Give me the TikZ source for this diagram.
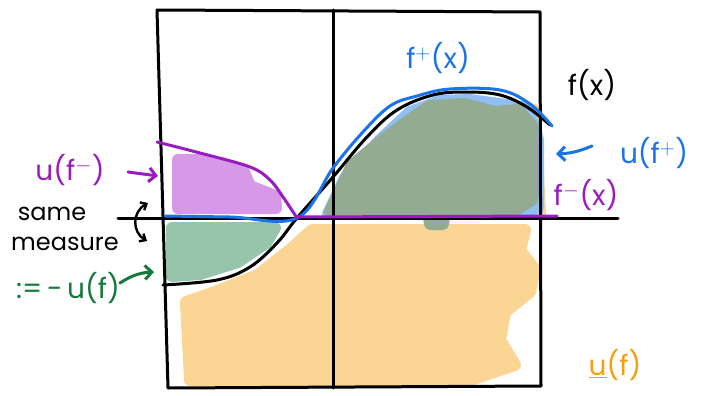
\documentclass[tikz,border=0pt]{standalone}
\usepackage{fontspec}
\setmainfont{Poppins}
\usetikzlibrary{arrows.meta}
\definecolor{cpurple}{HTML}{9A1CC0}
\definecolor{cpurplefill}{HTML}{D898E8}
\definecolor{cblue}{HTML}{1A73E8}
\definecolor{cbluefill}{HTML}{90BFF5}
\definecolor{cgreen}{HTML}{137A3C}
\definecolor{cgreenfill}{HTML}{97C5AB}
\definecolor{corange}{HTML}{F5A00A}
\definecolor{corangefill}{HTML}{FBD594}
\definecolor{csage}{HTML}{93AA93}
\tikzset{
  ink/.style={line width=3pt, line cap=round, line join=round},
  blob/.style={line width=12pt, line join=round, line cap=round},
  lbl/.style={inner sep=0pt, font=\fontsize{28}{30}\selectfont},
  smalllbl/.style={inner sep=0pt, font=\fontsize{24}{26}\selectfont},
  tip/.style={-{Straight Barb[length=7pt,width=14pt]}},
}
\begin{document}
\begin{tikzpicture}[x=1pt,y=-1pt]
\useasboundingbox (0,0) rectangle (710,396);
% fills
\filldraw[blob, fill=corangefill, draw=corangefill]
  (312,230) -- (525,230) -- (520,250) -- (535,270) -- (530,292) -- (505,312) -- (500,340) -- (515,365) -- (470,380) -- (190,380) -- (186,302) -- (215,292) -- (258,275) -- (292,248) -- cycle;
\filldraw[blob, fill=corangefill, draw=corangefill]
  (345,214) -- (362,172) -- (395,128) -- (420,110) -- (500,106) -- (535,110) -- (540,214) -- cycle;
\filldraw[blob, fill=cbluefill, draw=cbluefill]
  (328,214) -- (345,178) -- (380,140) -- (410,112) -- (440,101) -- (470,100) -- (528,108) -- (538,140) -- (538,208) -- (520,212) -- cycle;
\filldraw[blob, fill=csage, draw=csage]
  (330,212) -- (352,165) -- (385,138) -- (412,118) -- (430,106) -- (465,104) -- (495,112) -- (518,110) -- (532,126) -- (532,200) -- (515,210) -- (445,210) -- (443,224) -- (430,224) -- (428,212) -- cycle;
\filldraw[blob, fill=cpurplefill, draw=cpurplefill]
  (178,160) -- (200,160) -- (244,172) -- (250,186) -- (275,196) -- (276,208) -- (178,208) -- cycle;
\filldraw[blob, fill=cgreenfill, draw=cgreenfill]
  (172,228) -- (275,228) -- (266,243) -- (238,262) -- (200,274) -- (172,276) -- cycle;
% frame and axes
\coordinate (tl) at (157,10);
\coordinate (tr) at (540,12);
\coordinate (br) at (541,386);
\coordinate (bl) at (168,388);
\draw[ink] (tl) -- (tr) -- (br) -- (bl) -- cycle;
\coordinate (vt) at (333,10);
\coordinate (vb) at (333,388);
\draw[ink] (vt) -- (vb);
\coordinate (hl) at (118,218);
\coordinate (hr) at (618,218);
\draw[ink] (hl) -- (hr);
% curves
\draw[ink, black] plot[smooth, tension=0.6] coordinates {(163,285) (217,280) (250,267) (277,243) (297,218) (333,177) (367,137) (397,110) (433,95) (467,92) (500,95) (527,107) (550,125)};
\draw[ink, cblue] plot[smooth, tension=0.6] coordinates {(165,216) (230,217) (297,218) (333,168) (362,133) (390,106) (417,96) (450,89) (500,90) (530,104) (552,126)};
\draw[ink, cpurple] plot[smooth, tension=0.6] coordinates {(157,142) (200,153) (250,167) (270,180) (283,197) (297,218)};
\coordinate (fmstart) at (297,217);
\coordinate (fmend) at (557,216);
\draw[ink, cpurple] (fmstart) -- (fmend);
% labels
\node[lbl, text=cblue] (fplus) at (438,58) {f$^{+}$(x)};
\node[lbl, text=black] (fx) at (592,85) {f(x)};
\node[lbl, text=cblue] (ufplus) at (654,153) {u(f$^{+}$)};
\node[lbl, text=cpurple] (fminus) at (586,195) {f$^{-}$(x)};
\node[lbl, text=cpurple] (ufminus) at (70,170) {u(f$^{-}$)};
\node[smalllbl, text=black] (same) at (52,214) {same};
\node[smalllbl, text=black] (measure) at (65,244) {measure};
\node[lbl, text=cgreen] (neg) at (68,288) {:=\,-\,u(f)};
\node[lbl, text=corange] (uf) at (615,365) {\underline{u}(f)};
% arrows
\coordinate (a1s) at (128,172);
\coordinate (a1e) at (158,176);
\draw[ink, cpurple, tip] (a1s) -- (a1e);
\coordinate (a2s) at (592,146);
\coordinate (a2e) at (556,154);
\draw[ink, cblue, tip] (a2s) to[bend left=10] (a2e);
\coordinate (a3s) at (120,283);
\coordinate (a3e) at (154,272);
\draw[ink, cgreen, tip] (a3s) to[bend left=15] (a3e);
\coordinate (a4s) at (148,203);
\coordinate (a4e) at (147,241);
\draw[line width=2.4pt, {Straight Barb[length=5pt,width=9pt]}-{Straight Barb[length=5pt,width=9pt]}] (a4s) .. controls (132,212) and (132,232) .. (a4e);
\end{tikzpicture}
\end{document}
